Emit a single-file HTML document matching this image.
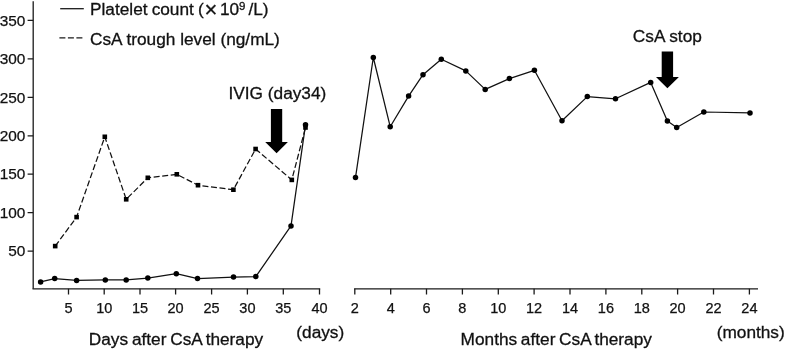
<!DOCTYPE html>
<html lang="en"><head><meta charset="utf-8"><title>Platelet count and CsA trough level</title>
<style>
html,body{margin:0;padding:0;background:#fff;}
body{width:785px;height:350px;overflow:hidden;}
svg{display:block;}
text{font-family:"Liberation Sans",Arial,sans-serif;fill:#111;}
.t17{font-size:17.25px;stroke:#111;stroke-width:0.3;}
.ty{font-size:15.4px;stroke:#111;stroke-width:0.25;}
.tx{font-size:14.5px;stroke:#111;stroke-width:0.25;}
.ln{fill:none;stroke:#111;stroke-width:1.25;stroke-linejoin:round;}
.ax{fill:none;stroke:#1a1a1a;stroke-width:1.3;}
.d{fill:#000;}
</style></head><body>
<svg width="785" height="350" viewBox="0 0 785 350">
<rect width="785" height="350" fill="#fff"/>

<path class="ax" d="M33.2,1.3V288.8"/>
<path class="ax" d="M27.6,20.3H33.2M27.6,58.8H33.2M27.6,97.3H33.2M27.6,135.8H33.2M27.6,174.2H33.2M27.6,212.6H33.2M27.6,251.1H33.2"/>
<text class="ty" x="25.4" y="25.5" text-anchor="end">350</text>
<text class="ty" x="25.4" y="64.0" text-anchor="end">300</text>
<text class="ty" x="25.4" y="102.5" text-anchor="end">250</text>
<text class="ty" x="25.4" y="141.0" text-anchor="end">200</text>
<text class="ty" x="25.4" y="179.4" text-anchor="end">150</text>
<text class="ty" x="25.4" y="217.8" text-anchor="end">100</text>
<text class="ty" x="25.4" y="256.3" text-anchor="end">50</text>
<path class="ax" d="M32.5,288.8H320.2"/>
<path class="ax" d="M68.5,288.8V294.6M104.2,288.8V294.6M140,288.8V294.6M175.6,288.8V294.6M211.6,288.8V294.6M247.4,288.8V294.6M283.3,288.8V294.6M319.5,288.8V294.6"/>
<text class="tx" x="68.5" y="312.6" text-anchor="middle">5</text>
<text class="tx" x="104.2" y="312.6" text-anchor="middle">10</text>
<text class="tx" x="140" y="312.6" text-anchor="middle">15</text>
<text class="tx" x="175.6" y="312.6" text-anchor="middle">20</text>
<text class="tx" x="211.6" y="312.6" text-anchor="middle">25</text>
<text class="tx" x="247.4" y="312.6" text-anchor="middle">30</text>
<text class="tx" x="283.3" y="312.6" text-anchor="middle">35</text>
<text class="tx" x="319.5" y="312.6" text-anchor="middle">40</text>
<path class="ax" d="M354.1,288.8H758"/>
<path class="ax" d="M354.8,288.8V294.6M390.7,288.8V294.6M426.5,288.8V294.6M462.4,288.8V294.6M498.3,288.8V294.6M534.1,288.8V294.6M570.0,288.8V294.6M605.9,288.8V294.6M641.8,288.8V294.6M677.6,288.8V294.6M713.5,288.8V294.6M749.4,288.8V294.6"/>
<text class="tx" x="354.8" y="312.6" text-anchor="middle">2</text>
<text class="tx" x="390.7" y="312.6" text-anchor="middle">4</text>
<text class="tx" x="426.5" y="312.6" text-anchor="middle">6</text>
<text class="tx" x="462.4" y="312.6" text-anchor="middle">8</text>
<text class="tx" x="498.3" y="312.6" text-anchor="middle">10</text>
<text class="tx" x="534.1" y="312.6" text-anchor="middle">12</text>
<text class="tx" x="570.0" y="312.6" text-anchor="middle">14</text>
<text class="tx" x="605.9" y="312.6" text-anchor="middle">16</text>
<text class="tx" x="641.8" y="312.6" text-anchor="middle">18</text>
<text class="tx" x="677.6" y="312.6" text-anchor="middle">20</text>
<text class="tx" x="713.5" y="312.6" text-anchor="middle">22</text>
<text class="tx" x="749.4" y="312.6" text-anchor="middle">24</text>
<polyline class="ln" stroke-dasharray="6 2.6" points="55.2,246.1 76.6,217.1 104.8,136.8 126.2,199.3 147.8,177.8 176.8,174.3 198.0,185.2 233.4,189.7 255.6,149.0 291.8,179.9 305.5,127.5"/>
<polyline class="ln" points="40.6,281.9 54.7,278.6 76.6,280.4 105.3,279.9 126.2,279.9 147.8,278.1 176.3,273.7 197.5,278.6 233.5,277.1 255.8,276.6 291.0,225.9 305.5,124.8"/>
<polyline class="ln" points="355.5,177.6 373.3,57.5 390.2,126.7 408.6,96.1 423.0,74.7 441.3,59.3 465.8,70.9 485.2,89.4 509.4,78.6 534.4,70.3 562.0,120.7 587.3,96.6 615.5,98.8 650.7,82.4 667.4,121.1 676.7,127.5 703.8,112.0 750.0,112.9"/>
<rect class="d" x="52.9" y="243.8" width="4.6" height="4.6"/>
<rect class="d" x="74.3" y="214.8" width="4.6" height="4.6"/>
<rect class="d" x="102.5" y="134.5" width="4.6" height="4.6"/>
<rect class="d" x="123.9" y="197.0" width="4.6" height="4.6"/>
<rect class="d" x="145.5" y="175.5" width="4.6" height="4.6"/>
<rect class="d" x="174.5" y="172.0" width="4.6" height="4.6"/>
<rect class="d" x="195.7" y="182.9" width="4.6" height="4.6"/>
<rect class="d" x="231.1" y="187.4" width="4.6" height="4.6"/>
<rect class="d" x="253.3" y="146.7" width="4.6" height="4.6"/>
<rect class="d" x="289.5" y="177.6" width="4.6" height="4.6"/>
<rect class="d" x="303.2" y="125.2" width="4.6" height="4.6"/>
<circle class="d" cx="40.6" cy="281.9" r="2.75"/>
<circle class="d" cx="54.7" cy="278.6" r="2.75"/>
<circle class="d" cx="76.6" cy="280.4" r="2.75"/>
<circle class="d" cx="105.3" cy="279.9" r="2.75"/>
<circle class="d" cx="126.2" cy="279.9" r="2.75"/>
<circle class="d" cx="147.8" cy="278.1" r="2.75"/>
<circle class="d" cx="176.3" cy="273.7" r="2.75"/>
<circle class="d" cx="197.5" cy="278.6" r="2.75"/>
<circle class="d" cx="233.5" cy="277.1" r="2.75"/>
<circle class="d" cx="255.8" cy="276.6" r="2.75"/>
<circle class="d" cx="291" cy="225.9" r="2.75"/>
<circle class="d" cx="305.5" cy="124.8" r="2.75"/>
<circle class="d" cx="355.5" cy="177.6" r="2.75"/>
<circle class="d" cx="373.3" cy="57.5" r="2.75"/>
<circle class="d" cx="390.2" cy="126.7" r="2.75"/>
<circle class="d" cx="408.6" cy="96.1" r="2.75"/>
<circle class="d" cx="423.0" cy="74.7" r="2.75"/>
<circle class="d" cx="441.3" cy="59.3" r="2.75"/>
<circle class="d" cx="465.8" cy="70.9" r="2.75"/>
<circle class="d" cx="485.2" cy="89.4" r="2.75"/>
<circle class="d" cx="509.4" cy="78.6" r="2.75"/>
<circle class="d" cx="534.4" cy="70.3" r="2.75"/>
<circle class="d" cx="562" cy="120.7" r="2.75"/>
<circle class="d" cx="587.3" cy="96.6" r="2.75"/>
<circle class="d" cx="615.5" cy="98.8" r="2.75"/>
<circle class="d" cx="650.7" cy="82.4" r="2.75"/>
<circle class="d" cx="667.4" cy="121.1" r="2.75"/>
<circle class="d" cx="676.7" cy="127.5" r="2.75"/>
<circle class="d" cx="703.8" cy="112.0" r="2.75"/>
<circle class="d" cx="750.0" cy="112.9" r="2.75"/>
<path class="ax" d="M60.2,8.7H83.8"/>
<path class="ax" stroke-dasharray="6 2.5" d="M59.4,37.9H83"/>
<text class="t17" x="90" y="14.8" style="word-spacing:-0.7px">Platelet count (<tspan font-size="22" dx="0.9" dy="2.6">×</tspan><tspan dx="2.6" dy="-2.6">10</tspan><tspan font-size="11.5" dx="-0.1" dy="-4.4">9</tspan><tspan dy="4.4" dx="-1.2"> /L)</tspan></text>
<text class="t17" x="90" y="44.9">CsA trough level (ng/mL)</text>
<text class="t17" x="228.5" y="99.3">IVIG (day34)</text>
<path class="d" d="M270.9,108.9H282.2V142H287.9L276.6,153.3L265.2,142H270.9Z"/>
<text class="t17" x="632.8" y="42.0">CsA stop</text>
<path class="d" d="M661.7,51.5H673.1V77.1H678.9L667.4,88.3L656,77.1H661.7Z"/>
<text class="t17" x="88.8" y="345.0" style="word-spacing:-1px">Days after CsA therapy</text>
<text class="t17" x="296.3" y="338.0">(days)</text>
<text class="t17" x="460.6" y="344.9" style="word-spacing:-1.1px">Months after CsA therapy</text>
<text class="t17" x="716.7" y="338.4">(months)</text>
</svg></body></html>
